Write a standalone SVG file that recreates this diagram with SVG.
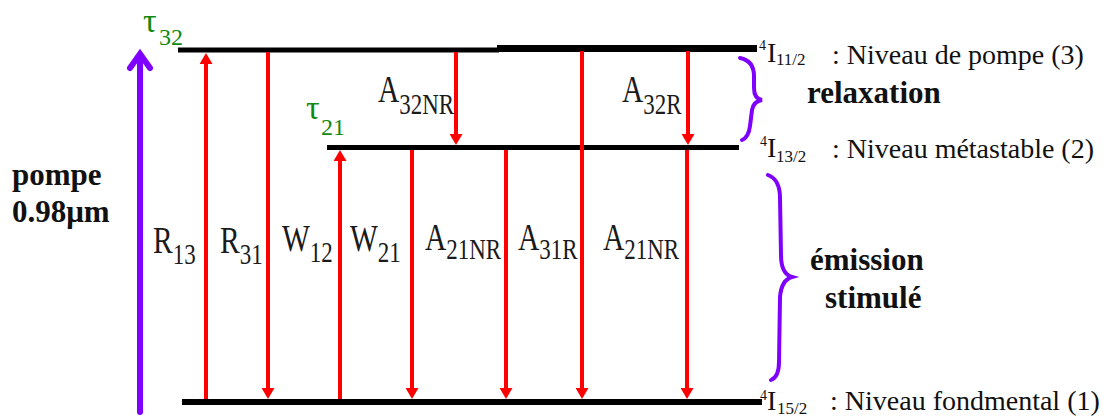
<svg xmlns="http://www.w3.org/2000/svg" width="1107" height="419" viewBox="0 0 1107 419">
<style>
.lvl{stroke:#000;fill:none}
.tr{stroke:#ff0000;stroke-width:4;fill:none;marker-end:url(#ah)}
.lbl{font-family:"Liberation Serif","Times New Roman",serif;font-size:36px;fill:#1a1a1a}
.sub{font-size:28px}
.lvtxt{font-family:"Liberation Serif","Times New Roman",serif;font-size:28px;fill:#111}
.bold{font-family:"Liberation Serif","Times New Roman",serif;font-weight:bold;font-size:31px;fill:#111}
.tau{font-family:"Liberation Serif","Times New Roman",serif;font-size:34px;fill:#108a10}
.brace{stroke:#8000ff;stroke-width:4;fill:none;stroke-linecap:round}
</style>
<defs>
<marker id="ah" viewBox="0 0 11 13" markerWidth="11" markerHeight="13" markerUnits="userSpaceOnUse" refX="0" refY="6.5" orient="auto">
<path d="M0,0 L11,6.5 L0,13 z" fill="#ff0000"/>
</marker>
</defs>
<rect width="1107" height="419" fill="#ffffff"/>

<g id="level3">
<line class="lvl" x1="178" y1="50" x2="499" y2="50" stroke-width="5"/>
<line class="lvl" x1="497" y1="48.5" x2="757" y2="48.5" stroke-width="7"/>
<text class="lvtxt"><tspan x="759" y="50" font-size="14">4</tspan><tspan x="767" y="62">I</tspan><tspan x="776" y="65" font-size="17">11/2</tspan></text>
<text class="lvtxt" x="832" y="64">: Niveau de pompe (3)</text>
</g>

<g id="level2">
<line class="lvl" x1="327" y1="147.5" x2="739" y2="147.5" stroke-width="5"/>
<text class="lvtxt"><tspan x="760" y="146" font-size="14">4</tspan><tspan x="767" y="157">I</tspan><tspan x="776" y="162" font-size="17">13/2</tspan></text>
<text class="lvtxt" x="832" y="158">: Niveau métastable (2)</text>
</g>

<g id="level1">
<line class="lvl" x1="182" y1="402" x2="762" y2="402" stroke-width="6"/>
<text class="lvtxt"><tspan x="760" y="400" font-size="14">4</tspan><tspan x="767" y="410">I</tspan><tspan x="777" y="414" font-size="17">15/2</tspan></text>
<text class="lvtxt" x="830" y="410">: Niveau fondmental (1)</text>
</g>

<g id="pump">
<line x1="140" y1="412" x2="140" y2="56" stroke="#8000ff" stroke-width="6" stroke-linecap="round"/>
<path d="M130,68 L140,54 L150,68" stroke="#8000ff" stroke-width="6" fill="none" stroke-linejoin="miter" stroke-linecap="round"/>
<text class="bold" x="12" y="185">pompe</text>
<text class="bold" x="12" y="222">0.98μm</text>
</g>

<g id="tau-labels">
<text class="tau" x="143" y="32">τ<tspan x="159" y="45" font-size="24">32</tspan></text>
<text class="tau" x="306" y="119">τ<tspan x="321" y="135" font-size="24">21</tspan></text>
</g>

<g id="braces">
<path class="brace" d="M740,58 C750,60 754,66 754,76 L754,88 C754,95 756,99 762,100 C756,101 753,104 752,110 L750,126 C749,134 747,138 742,140"/>
<text class="bold" x="807" y="103" font-size="32">relaxation</text>
<path class="brace" d="M768,175 C776,178 780,186 780,198 L781,255 C781,268 785,275 792,277 C785,279 781,285 780,297 L779,362 C779,372 776,378 771,380"/>
<text class="bold" x="810" y="270">émission</text>
<text class="bold" x="825" y="308">stimulé</text>
</g>

<g id="connectors">
<line class="tr" x1="206" y1="399" x2="206" y2="64" stroke-width="3"/>
<line class="tr" x1="268" y1="52" x2="268" y2="388"/>
<line class="tr" x1="340" y1="399" x2="340" y2="161"/>
<line class="tr" x1="456" y1="52" x2="456" y2="134"/>
<line class="tr" x1="412" y1="150" x2="412" y2="388"/>
<line class="tr" x1="506" y1="150" x2="506" y2="388"/>
<line class="tr" x1="582" y1="51" x2="582" y2="388"/>
<line class="tr" x1="688" y1="51" x2="688" y2="134"/>
<line class="tr" x1="687" y1="150" x2="687" y2="388"/>
</g>

<g id="rate-labels">
<g transform="translate(153,253) scale(0.82,1.05)"><text class="lbl">R<tspan class="sub" dy="10">13</tspan></text></g>
<g transform="translate(220,253) scale(0.82,1.05)"><text class="lbl">R<tspan class="sub" dy="10">31</tspan></text></g>
<g transform="translate(282,251) scale(0.82,1.05)"><text class="lbl">W<tspan class="sub" dy="10">12</tspan></text></g>
<g transform="translate(350,251) scale(0.82,1.05)"><text class="lbl">W<tspan class="sub" dy="10">21</tspan></text></g>
<g transform="translate(425,250) scale(0.82,1.05)"><text class="lbl">A<tspan class="sub" dy="9">21NR</tspan></text></g>
<g transform="translate(518,250) scale(0.82,1.05)"><text class="lbl">A<tspan class="sub" dy="9">31R</tspan></text></g>
<g transform="translate(603,250) scale(0.82,1.05)"><text class="lbl">A<tspan class="sub" dy="9">21NR</tspan></text></g>
<g transform="translate(378,102) scale(0.82,1.05)"><text class="lbl">A<tspan class="sub" dy="11">32NR</tspan></text></g>
<g transform="translate(622,102) scale(0.82,1.05)"><text class="lbl">A<tspan class="sub" dy="11">32R</tspan></text></g>
</g>
</svg>
